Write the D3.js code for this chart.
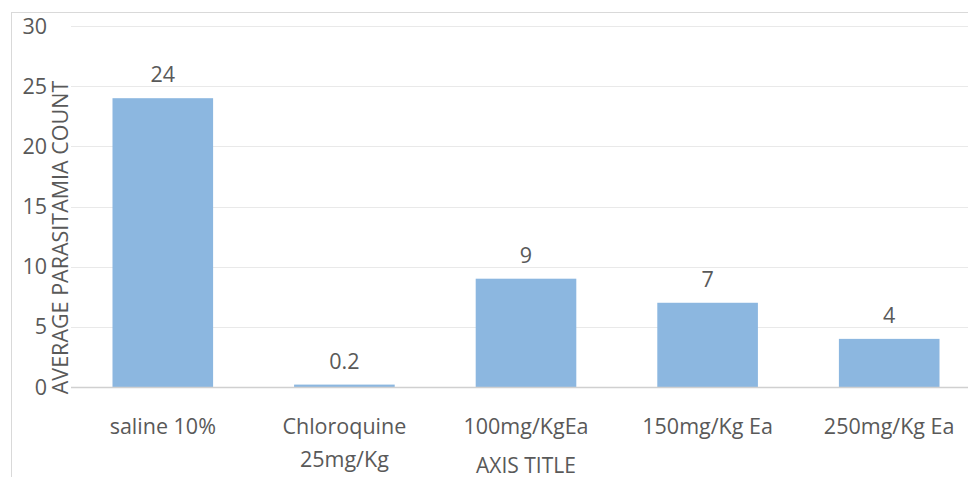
<!DOCTYPE html>
<html>
<head>
<meta charset="utf-8">
<script src="https://cdn.jsdelivr.net/npm/d3@7"></script>
<style>
  body { margin: 0; background: #fff; }
  text { font-family: "Open Sans", Lato, sans-serif; fill: #595959; }
</style>
</head>
<body>
<div id="chart-area"></div>
<script>
// chart data
var categories = [["saline 10%"], ["Chloroquine", "25mg/Kg"], ["100mg/KgEa"], ["150mg/Kg Ea"], ["250mg/Kg Ea"]];
var values = [24, 0.2, 9, 7, 4];
var valueLabels = ["24", "0.2", "9", "7", "4"];
var yTicks = [0, 5, 10, 15, 20, 25, 30];

var width = 968, height = 477;
var plotTop = 26, plotBottom = 387, plotLeft = 72, plotRight = 980;

var svg = d3.select("#chart-area").append("svg")
    .attr("width", width)
    .attr("height", height);

// outer chart border (only top and left visible in the crop)
svg.append("rect")
    .attr("x", 11.5).attr("y", 12.5)
    .attr("width", 1000).attr("height", 1000)
    .attr("fill", "none")
    .attr("stroke", "#d9d9d9");

var x = d3.scaleBand()
    .domain(d3.range(categories.length))
    .range([plotLeft, plotRight])
    .paddingInner(0.446)
    .paddingOuter(0.223);

var y = d3.scaleLinear()
    .domain([0, 30])
    .range([plotBottom, plotTop]);

// gridlines
svg.selectAll("line.grid").data(yTicks.filter(function(d){ return d > 0; }))
    .enter().append("line")
        .attr("class", "grid")
        .attr("x1", plotLeft - 1).attr("x2", width)
        .attr("y1", function(d){ return Math.round(y(d)) + 0.5; })
        .attr("y2", function(d){ return Math.round(y(d)) + 0.5; })
        .attr("stroke", "#e9e9e9");

// tick labels
svg.selectAll("text.ytick").data(yTicks)
    .enter().append("text")
        .attr("class", "ytick")
        .attr("x", 47)
        .attr("y", function(d){ return y(d) + 7.5; })
        .attr("text-anchor", "end")
        .attr("font-size", 21.5)
        .text(function(d){ return d; });

// bars
svg.selectAll("rect.bar").data(values)
    .enter().append("rect")
        .attr("class", "bar")
        .attr("x", function(d, i){ return x(i); })
        .attr("y", function(d){ return y(d); })
        .attr("width", x.bandwidth())
        .attr("height", function(d){ return y(0) - y(d); })
        .attr("fill", "#8cb7e0");

// baseline
svg.append("line")
    .attr("x1", plotLeft - 1).attr("x2", width)
    .attr("y1", Math.round(y(0)) + 0.5).attr("y2", Math.round(y(0)) + 0.5)
    .attr("stroke", "#d0d0d0")
    .attr("stroke-width", 1.5);

// value labels above bars
svg.selectAll("text.val").data(values)
    .enter().append("text")
        .attr("class", "val")
        .attr("x", function(d, i){ return x(i) + x.bandwidth() / 2; })
        .attr("y", function(d){ return y(d) - 16; })
        .attr("text-anchor", "middle")
        .attr("font-size", 21.5)
        .text(function(d, i){ return valueLabels[i]; });

// category labels, may wrap to 2 lines
var cat = svg.selectAll("text.cat").data(categories)
    .enter().append("text")
        .attr("class", "cat")
        .attr("text-anchor", "middle")
        .attr("font-size", 21.5);
cat.selectAll("tspan").data(function(d, i){
        return d.map(function(s){ return {s: s, i: i}; });
    })
    .enter().append("tspan")
        .attr("x", function(d){ return x(d.i) + x.bandwidth() / 2; })
        .attr("y", function(d, j){ return 434 + j * 33; })
        .text(function(d){ return d.s; });

// axis titles
svg.append("text")
    .attr("x", x(2) + x.bandwidth() / 2)
    .attr("y", 473)
    .attr("text-anchor", "middle")
    .attr("font-size", 21)
    .text("AXIS TITLE");

svg.append("text")
    .attr("transform", "translate(68," + 237.5 + ") rotate(-90)")
    .attr("text-anchor", "middle")
    .attr("font-size", 21.5)
    .text("AVERAGE PARASITAMIA COUNT");
</script>
</body>
</html>
